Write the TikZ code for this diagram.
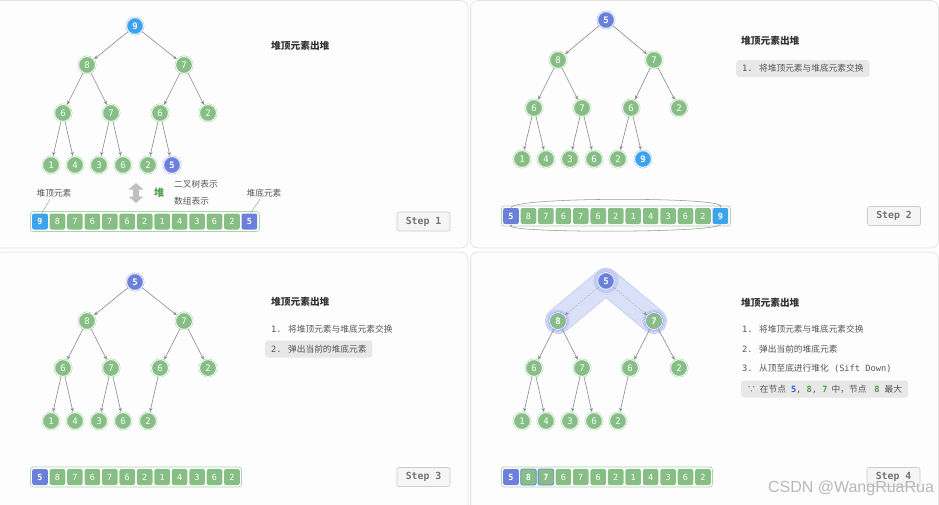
\documentclass[tikz,border=0pt]{standalone}
\usepackage{fontspec}
\setmainfont{Noto Sans CJK SC}
\newfontfamily\mono{DejaVu Sans Mono}
\newfontfamily\wmfont{Liberation Sans}
\usetikzlibrary{arrows.meta}
\definecolor{G}{HTML}{86BE86}
\definecolor{Gring}{HTML}{AAD4AA}
\definecolor{B}{HTML}{6B80DB}
\definecolor{Bring}{HTML}{A3B0EC}
\definecolor{LB}{HTML}{3CA3EC}
\definecolor{LBring}{HTML}{8FC9F3}
\definecolor{edgec}{HTML}{8A8A8A}
\definecolor{txt}{HTML}{333333}
\definecolor{txtg}{HTML}{555555}
\definecolor{panelborder}{HTML}{E3E3E3}
\definecolor{panelfill}{HTML}{FDFDFD}
\definecolor{hlbox}{HTML}{E8E8E8}
\definecolor{bandfill}{HTML}{D9E0F8}
\definecolor{bandline}{HTML}{C0CAF2}
\definecolor{halo}{HTML}{C3CDF3}
\definecolor{greenT}{HTML}{4E9E4E}
\definecolor{blueT}{HTML}{3F5BD6}
\pgfdeclarelayer{panels}
\pgfdeclarelayer{mid}
\pgfsetlayers{panels,mid,main}
\tikzset{
  hn/.style={circle, minimum size=17pt, inner sep=0pt, fill=G, draw=Gring, line width=0.5pt,
    double=white, double distance=0.7pt, text=white, font=\mono\fontsize{9}{9}\selectfont},
  hb/.style={hn, fill=B, draw=Bring, font=\mono\bfseries\fontsize{9}{9}\selectfont},
  hl/.style={hn, fill=LB, draw=LBring, font=\mono\bfseries\fontsize{9}{9}\selectfont},
  hgb/.style={hn, draw=B!80, font=\mono\bfseries\fontsize{9}{9}\selectfont},
  edge/.style={draw=edgec, line width=0.6pt, -{Stealth[length=4pt,width=3.4pt]}, shorten <=0.3pt, shorten >=0.6pt},
  dedge/.style={edge, dotted, line width=0.7pt},
  cg/.style={rectangle, rounded corners=2pt, minimum width=15.6pt, minimum height=16pt, inner sep=0pt,
    fill=G, text=white, font=\mono\fontsize{8.5}{9}\selectfont},
  cb/.style={cg, fill=B, font=\mono\bfseries\fontsize{8.5}{9}\selectfont},
  cl/.style={cg, fill=LB, font=\mono\bfseries\fontsize{8.5}{9}\selectfont},
  cgb/.style={cg, draw=B, line width=0.8pt, font=\mono\bfseries\fontsize{8.5}{9}\selectfont},
  arr/.style={draw=Gring, fill=white, line width=0.7pt, rounded corners=3pt},
  panel/.style={draw=panelborder, fill=panelfill, line width=0.8pt, rounded corners=7pt},
  ttl/.style={anchor=west, inner sep=0pt, text=txt, font=\bfseries\fontsize{9.7}{11}\selectfont},
  itm/.style={anchor=west, inner sep=0pt, text=txtg, font=\fontsize{8.7}{10}\selectfont},
  hitm/.style={itm, fill=hlbox, rounded corners=3pt, inner xsep=6pt, minimum height=17pt},
  stepbtn/.style={rectangle, rounded corners=2pt, fill=white!96!black, draw=black!20, line width=0.6pt,
    minimum width=53pt, minimum height=19pt, inner sep=0pt, text=black!55, font=\mono\bfseries\fontsize{9.8}{11}\selectfont},
  lbl/.style={inner sep=2pt, text=txtg, font=\fontsize{8.7}{10}\selectfont},
  lblline/.style={draw=black!35, line width=0.5pt},
  swap/.style={draw=black!40, line width=0.55pt, -{Stealth[length=3pt,width=2.6pt]}},
}
\begin{document}
\begin{tikzpicture}[x=1pt,y=-1pt]
\useasboundingbox (0,0) rectangle (939,504);
% panels
\begin{pgfonlayer}{panels}
\draw[panel] (-6,0.6) rectangle (468,248);
\draw[panel] (470.6,0.6) rectangle (938.4,248);
\draw[panel] (-6,252) rectangle (468,512);
\draw[panel] (470.6,252) rectangle (938.4,512);
\end{pgfonlayer}

% ================= Panel 1 =================
\begin{scope}[shift={(135,26)}]
\node[hl] (p1r) at (0,0) {9};
\node[hn] (p1a) at (-48,39) {8};
\node[hn] (p1b) at (49,39) {7};
\node[hn] (p1c) at (-72,87) {6};
\node[hn] (p1d) at (-24,87) {7};
\node[hn] (p1e) at (25,87) {6};
\node[hn] (p1f) at (73,87) {2};
\node[hn] (p1g) at (-84,139) {1};
\node[hn] (p1h) at (-60,139) {4};
\node[hn] (p1i) at (-36,139) {3};
\node[hn] (p1j) at (-12,139) {6};
\node[hn] (p1k) at (13,139) {2};
\node[hb] (p1l) at (37,139) {5};
\end{scope}
\foreach \p/\c in {r/a,r/b,a/c,a/d,b/e,b/f,c/g,c/h,d/i,d/j,e/k,e/l}
  \draw[edge] (p1\p) -- (p1\c);
\node[ttl] (t1) at (271,46) {堆顶元素出堆};
\fill[black!25] (136,183) -- (143.5,189.5) -- (139,189.5) -- (139,196.5) -- (143.5,196.5) -- (136,203)
  -- (128.5,196.5) -- (133,196.5) -- (133,189.5) -- (128.5,189.5) -- cycle;
\node[inner sep=0pt, text=greenT, font=\bfseries\fontsize{10}{11}\selectfont] (heap) at (159,193) {堆};
\node[itm] (bt) at (174,184) {二叉树表示};
\node[itm] (ar) at (174,201) {数组表示};
\node[lbl] (ltop) at (54,193) {堆顶元素};
\node[lbl] (lbot) at (264,193) {堆底元素};
\draw[arr] (30.5,211.5) rectangle (259.5,231.5);
\foreach \v/\s [count=\i from 0] in {9/cl,8/cg,7/cg,6/cg,7/cg,6/cg,2/cg,1/cg,4/cg,3/cg,6/cg,2/cg,5/cb}
  \node[\s] (q1-\i) at ({40+17.45*\i},221.5) {\v};
\draw[lblline] ([xshift=-4pt]ltop.south) -- ([xshift=2pt]q1-0.north);
\draw[lblline] ([xshift=-4pt]lbot.south) -- ([xshift=1pt]q1-12.north);
\node[stepbtn] (s1) at (423.5,221.5) {Step 1};

% ================= Panel 2 =================
\begin{scope}[shift={(606,20)}]
\node[hb] (p2r) at (0,0) {5};
\node[hn] (p2a) at (-48,40) {8};
\node[hn] (p2b) at (48,40) {7};
\node[hn] (p2c) at (-72,88) {6};
\node[hn] (p2d) at (-24,88) {7};
\node[hn] (p2e) at (25,88) {6};
\node[hn] (p2f) at (73,88) {2};
\node[hn] (p2g) at (-84,139) {1};
\node[hn] (p2h) at (-60,139) {4};
\node[hn] (p2i) at (-36,139) {3};
\node[hn] (p2j) at (-12,139) {6};
\node[hn] (p2k) at (12,139) {2};
\node[hl] (p2l) at (37,139) {9};
\end{scope}
\foreach \p/\c in {r/a,r/b,a/c,a/d,b/e,b/f,c/g,c/h,d/i,d/j,e/k,e/l}
  \draw[edge] (p2\p) -- (p2\c);
\node[ttl] (t2) at (741,41) {堆顶元素出堆};
\node[hitm] (i21) at (736,68.5) {{\mono 1.}\hspace{6.5pt}将堆顶元素与堆底元素交换};
\draw[arr] (501.5,206) rectangle (730.5,226);
\foreach \v/\s [count=\i from 0] in {5/cb,8/cg,7/cg,6/cg,7/cg,6/cg,2/cg,1/cg,4/cg,3/cg,6/cg,2/cg,9/cl}
  \node[\s] (q2-\i) at ({511+17.45*\i},216) {\v};
\draw[swap] (q2-0.north) .. controls ([yshift=11pt]q2-0.north) and ([yshift=11pt]q2-12.north) .. (q2-12.north);
\draw[swap] (q2-12.south) .. controls ([yshift=-9pt]q2-12.south) and ([yshift=-9pt]q2-0.south) .. (q2-0.south);
\node[stepbtn] (s2) at (894,216) {Step 2};

% ================= Panel 3 =================
\begin{scope}[shift={(135,282)}]
\node[hb] (p3r) at (0,0) {5};
\node[hn] (p3a) at (-48,39) {8};
\node[hn] (p3b) at (49,39) {7};
\node[hn] (p3c) at (-72,86) {6};
\node[hn] (p3d) at (-24,86) {7};
\node[hn] (p3e) at (25,86) {6};
\node[hn] (p3f) at (73,86) {2};
\node[hn] (p3g) at (-84,139) {1};
\node[hn] (p3h) at (-60,139) {4};
\node[hn] (p3i) at (-36,139) {3};
\node[hn] (p3j) at (-12,139) {6};
\node[hn] (p3k) at (13,139) {2};
\end{scope}
\foreach \p/\c in {r/a,r/b,a/c,a/d,b/e,b/f,c/g,c/h,d/i,d/j,e/k}
  \draw[edge] (p3\p) -- (p3\c);
\node[ttl] (t3) at (271,302) {堆顶元素出堆};
\node[itm] (i31) at (271,329) {{\mono 1.}\hspace{6.5pt}将堆顶元素与堆底元素交换};
\node[hitm] (i32) at (265,349) {{\mono 2.}\hspace{6.5pt}弹出当前的堆底元素};
\draw[arr] (30.5,467) rectangle (241.5,487);
\foreach \v/\s [count=\i from 0] in {5/cb,8/cg,7/cg,6/cg,7/cg,6/cg,2/cg,1/cg,4/cg,3/cg,6/cg,2/cg}
  \node[\s] (q3-\i) at ({40+17.45*\i},477) {\v};
\node[stepbtn] (s3) at (423.5,477) {Step 3};

% ================= Panel 4 =================
\begin{scope}[shift={(606,281)}]
\node[hb] (p4r) at (0,0) {5};
\node[hgb] (p4a) at (-48,40) {8};
\node[hgb] (p4b) at (48,40) {7};
\node[hn] (p4c) at (-72,87) {6};
\node[hn] (p4d) at (-24,87) {7};
\node[hn] (p4e) at (24,87) {6};
\node[hn] (p4f) at (73,87) {2};
\node[hn] (p4g) at (-84,140) {1};
\node[hn] (p4h) at (-60,140) {4};
\node[hn] (p4i) at (-36,140) {3};
\node[hn] (p4j) at (-12,140) {6};
\node[hn] (p4k) at (12,140) {2};
\end{scope}
\begin{pgfonlayer}{mid}
\draw[bandline, line width=26pt, line cap=round] (p4r.center) -- (p4a.center);
\draw[bandline, line width=26pt, line cap=round] (p4r.center) -- (p4b.center);
\draw[bandfill, line width=24.4pt, line cap=round] (p4r.center) -- (p4a.center);
\draw[bandfill, line width=24.4pt, line cap=round] (p4r.center) -- (p4b.center);
\fill[halo] (p4r.center) circle (12.5pt);
\fill[halo] (p4a.center) circle (11.5pt);
\fill[halo] (p4b.center) circle (11.5pt);
\end{pgfonlayer}
\draw[dedge] (p4r) -- (p4a);
\draw[dedge] (p4r) -- (p4b);
\foreach \p/\c in {a/c,a/d,b/e,b/f,c/g,c/h,d/i,d/j,e/k}
  \draw[edge] (p4\p) -- (p4\c);
\node[ttl] (t4) at (741,303) {堆顶元素出堆};
\node[itm] (i41) at (742,329) {{\mono 1.}\hspace{6.5pt}将堆顶元素与堆底元素交换};
\node[itm] (i42) at (742,349) {{\mono 2.}\hspace{6.5pt}弹出当前的堆底元素};
\node[itm] (i43) at (742,368) {{\mono 3.}\hspace{6.5pt}从顶至底进行堆化{\mono\ (Sift Down)}};
\node[hitm] (i44) at (741,389) {∵\hspace{4pt}在节点\hspace{5pt}{\mono\bfseries\color{blueT}5}{\mono,\ }{\mono\bfseries\color{greenT}8}{\mono,\ }{\mono\bfseries\color{greenT}7}\hspace{4pt}中，节点\hspace{8pt}{\mono\bfseries\color{greenT}8}\hspace{5pt}最大};
\draw[arr] (501.5,467) rectangle (712.5,487);
\foreach \v/\s [count=\i from 0] in {5/cb,8/cgb,7/cgb,6/cg,7/cg,6/cg,2/cg,1/cg,4/cg,3/cg,6/cg,2/cg}
  \node[\s] (q4-\i) at ({511+17.45*\i},477) {\v};
\node[stepbtn] (s4) at (893.5,477) {Step 4};
\node[inner sep=0pt, text=black!28, font=\wmfont\fontsize{16}{18}\selectfont] (wm) at (851,488) {CSDN @WangRuaRua};
\end{tikzpicture}
\end{document}
